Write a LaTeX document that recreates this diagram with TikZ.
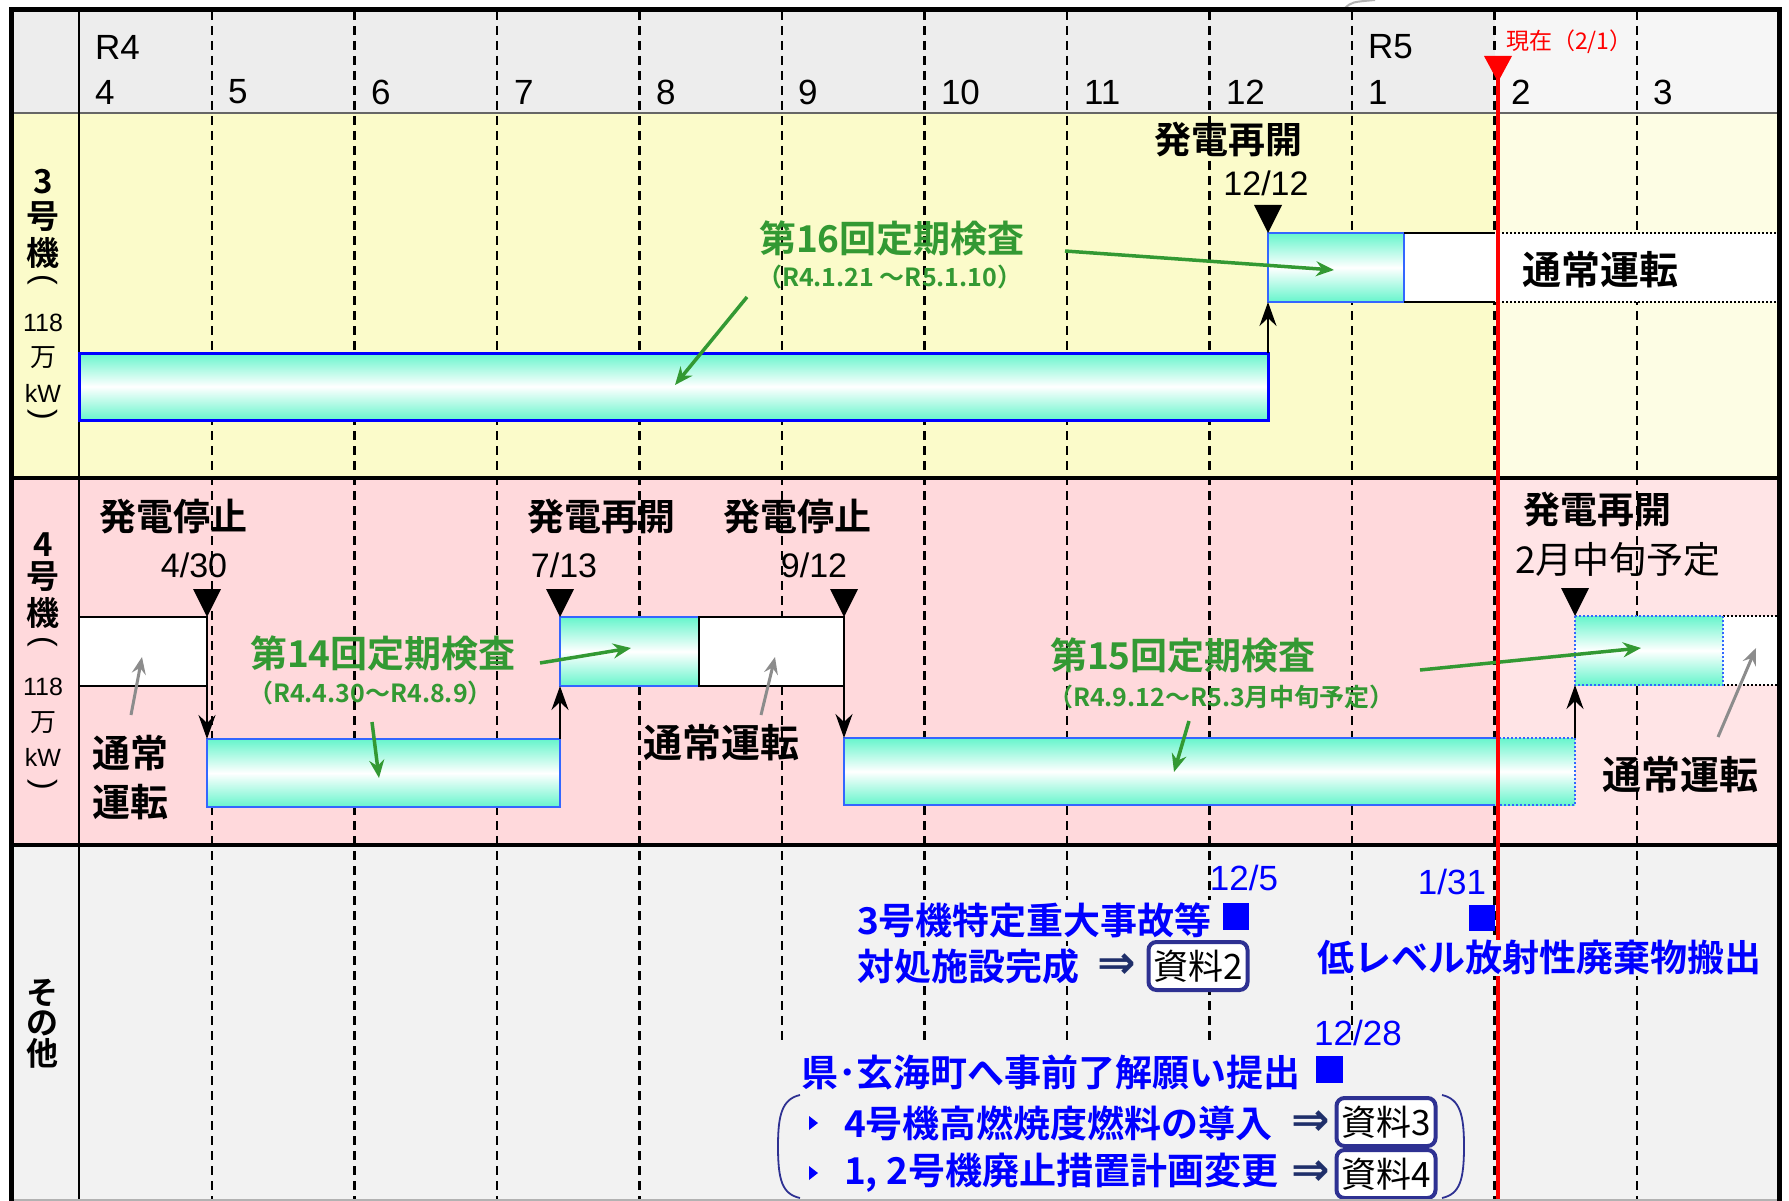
\documentclass[tikz,border=0pt]{standalone}
\usepackage{fontspec}
\setmainfont{Liberation Sans}
\newfontfamily\jp[BoldFont={Noto Sans CJK JP Bold}]{Noto Sans CJK JP}
\newfontfamily\djv{DejaVu Sans}
\usetikzlibrary{arrows.meta}
\newcommand\myfs[1]{\fontsize{#1}{#1}\selectfont}
\definecolor{hdr}{HTML}{EDEDED}
\definecolor{hdrR}{HTML}{F6F6F6}
\definecolor{yel}{HTML}{FBFBCA}
\definecolor{yelR}{HTML}{FDFDE4}
\definecolor{pnk}{HTML}{FFD9DC}
\definecolor{pnkR}{HTML}{FFE4E6}
\definecolor{oth}{HTML}{F2F2F2}
\definecolor{aq}{HTML}{66F5CC}
\definecolor{grn}{HTML}{339933}
\definecolor{gry}{HTML}{8C8C8C}
\definecolor{navy}{HTML}{2E3192}
\definecolor{arrnavy}{HTML}{1F2F6A}
\definecolor{bluebd}{HTML}{3366FF}
\definecolor{txtblue}{HTML}{0000FF}
\begin{document}
\begin{tikzpicture}[x=1pt,y=-1pt,
  every node/.style={inner sep=0pt,outer sep=0pt},
  gridln/.style={line width=2.3pt,dash pattern=on 9pt off 6pt},
  gbar/.style={draw=bluebd,line width=2.5pt,top color=aq,bottom color=aq,middle color=white,anchor=north west},
  gbarnb/.style={top color=aq,bottom color=aq,middle color=white,anchor=north west},
  wbox/.style={fill=white,anchor=north west},
  blkarr/.style={line width=2.7pt,-{Stealth[length=24pt,width=17pt,inset=8pt]}},
  garr/.style={grn,line width=3.5pt,-{Stealth[length=18pt,width=15pt,inset=6pt]}},
  grarr/.style={gry,line width=3pt,-{Stealth[length=17pt,width=14pt,inset=6pt]}},
  jb/.style={font=\jp\bfseries\myfs{37}},
  jr/.style={font=\jp\myfs{37}},
  num/.style={font=\myfs{34}},
  mon/.style={font=\myfs{35},anchor=west},
  gtitle/.style={font=\jp\bfseries\myfs{37},text=grn,anchor=west},
  gsub/.style={font=\jp\bfseries\myfs{25},text=grn,anchor=west},
  btxt/.style={font=\jp\bfseries\myfs{37},text=txtblue},
  bnum/.style={font=\myfs{35},text=txtblue},
  refbox/.style={draw=navy,line width=4pt,rounded corners=8pt,fill=white,font=\jp\myfs{35},minimum width=99pt,minimum height=48pt},
  rarr/.style={font=\djv\bfseries\myfs{46},text=arrnavy},
  vlab/.style={font=\jp\bfseries\myfs{33}},
  vsmall/.style={font=\myfs{25}},
  vpar/.style={font=\myfs{32},rotate=-90},
  tri/.pic={\fill (-14,-28) -- (14,-28) -- (0,0) -- cycle;}
]
\useasboundingbox (0,0) rectangle (1789,1201);
\fill[white] (0,0) rectangle (1789,1201);
% stray curve at top
\draw[gray!60,line width=2pt] (1345,8) .. controls (1352,2) .. (1375,0);
% backgrounds
\fill[hdr] (11,9) rectangle (1495,113);
\fill[hdrR] (1495,9) rectangle (1779,113);
\fill[yel] (11,113) rectangle (1495,478);
\fill[yelR] (1495,113) rectangle (1779,478);
\fill[pnk] (11,478) rectangle (1495,845);
\fill[pnkR] (1495,478) rectangle (1779,845);
\fill[oth] (11,845) rectangle (1779,1201);
% grid
\foreach \i in {0,...,10} \draw[gridln] ({212+142.5*\i},11) -- ({212+142.5*\i},1201);
\draw[black!60,line width=2.5pt] (11,113) -- (1779,113);
\draw[line width=3.5pt] (11,478) -- (1779,478);
\draw[line width=3.5pt] (11,845) -- (1779,845);
\draw[line width=2pt] (79,9) -- (79,1201);
% header labels
\node[mon] (hR4) at (95,47) {R4};
\node[mon] (hR5) at (1368,47) {R5};
\foreach \m/\x in {4/95,5/228,6/371,7/514,8/656,9/798,10/941,11/1084,12/1226,1/1368,2/1511,3/1653}
  \node[mon] (hm\m) at (\x,92) {\m};
\node[font=\jp\myfs{23},text=red,anchor=west] (now) at (1506,42) {現在（2/1）};
% row labels
\foreach \t/\y [count=\k] in {3/182,号/217,機/253} \node[vlab] (l3a\k) at (43,\y) {\t};
\node[vpar] (l3p1) at (43,280) {(};
\node[vsmall] (l3n) at (43,323) {118};
\node[font=\jp\myfs{26}] (l3m) at (43,358) {万};
\node[vsmall] (l3k) at (43,393) {kW};
\node[vpar] (l3p2) at (43,415) {)};
\foreach \t/\y [count=\k] in {4/545,号/577,機/613} \node[vlab] (l4a\k) at (43,\y) {\t};
\node[vpar] (l4p1) at (43,642) {(};
\node[vsmall] (l4n) at (43,687) {118};
\node[font=\jp\myfs{26}] (l4m) at (43,723) {万};
\node[vsmall] (l4k) at (43,757) {kW};
\node[vpar] (l4p2) at (43,785) {)};
\foreach \t/\y [count=\k] in {そ/993,の/1023,他/1053} \node[font=\jp\bfseries\myfs{32}] (l5\k) at (43,\y) {\t};
% ===== Unit 3 =====
\node[gbar,draw=txtblue,line width=3pt,minimum width=1189pt,minimum height=67pt] (b3) at (79,353) {};
\node[wbox,minimum width=375pt,minimum height=69pt] (w3) at (1404,233) {};
\node[gbar,minimum width=136pt,minimum height=69pt] (u3) at (1268,233) {};
\draw[line width=2.5pt] (w3.north west) -- (1495,233);
\draw[line width=2.5pt] (w3.south west) -- (1495,302);
\draw[line width=2pt,dotted] (1498,233) -- (w3.north east);
\draw[line width=2pt,dotted] (1498,302) -- (w3.south east);
\draw[blkarr] (b3.north east) -- (u3.south west);
\pic at (u3.north west) {tri};
\node[jb] (s3) at (1228,140) {発電再開};
\node[num] (d3) at (1266,183) {12/12};
\node[font=\jp\bfseries\myfs{39}] (n3) at (1600,270) {通常運転};
\node[gtitle] (g16) at (759,238) {第16回定期検査};
\node[gsub] (g16s) at (757,277) {（R4.1.21 ～R5.1.10）};
\draw[garr] (747,297) coordinate (g16a) -- (675,385) coordinate (g16b);
\draw[garr] (1065,251) coordinate (g16c) -- (1334,270) coordinate (g16d);
% ===== Unit 4 =====
\node[wbox,draw,line width=2.5pt,minimum width=128pt,minimum height=69pt] (w4a) at (79,617) {};
\node[gbar,minimum width=353pt,minimum height=68pt] (l4a) at (207,739) {};
\node[gbar,minimum width=139pt,minimum height=69pt] (u4a) at (560,617) {};
\node[wbox,draw,line width=2.5pt,minimum width=145pt,minimum height=69pt] (w4b) at (699,617) {};
\node[gbarnb,minimum width=731pt,minimum height=67pt] (l4b) at (844,738) {};
\draw[bluebd,line width=2.5pt] (1495,738) -| (l4b.south west) -- (1495,805);
\draw[bluebd,line width=2pt,dotted] (1495,738) -| (l4b.south east) -- (1495,805);
\node[wbox,minimum width=56pt,minimum height=69pt] (w4c) at (1723,616) {};
\draw[line width=2pt,dotted] (w4c.north west) -- (w4c.north east);
\draw[line width=2pt,dotted] (w4c.south west) -- (w4c.south east);
\node[gbarnb,minimum width=148pt,minimum height=69pt] (u4b) at (1575,616) {};
\draw[bluebd,line width=2pt,dotted] (u4b.north west) rectangle (u4b.south east);
\draw[blkarr] (w4a.north east) -- (l4a.north west);
\draw[blkarr] (l4a.north east) -- (u4a.south west);
\draw[blkarr] (w4b.north east) -- (l4b.north west);
\draw[blkarr] (l4b.north east) -- (u4b.south west);
\pic at (w4a.north east) {tri};
\pic at (u4a.north west) {tri};
\pic at (w4b.north east) {tri};
\pic at (u4b.north west) {tri};
\node[jb] (s4a) at (173,517) {発電停止};
\node[num] (d4a) at (194,565) {4/30};
\node[jb] (s4b) at (601,517) {発電再開};
\node[num] (d4b) at (564,565) {7/13};
\node[jb] (s4c) at (797,517) {発電停止};
\node[num] (d4c) at (814,565) {9/12};
\node[jb] (s4d) at (1597,510) {発電再開};
\node[jr] (d4d) at (1618,560) {2月中旬予定};
\node[font=\jp\bfseries\myfs{38}] (n4a1) at (130,753) {通常};
\node[font=\jp\bfseries\myfs{38}] (n4a2) at (130,802) {運転};
\node[font=\jp\bfseries\myfs{39}] (n4b) at (721,743) {通常運転};
\node[font=\jp\bfseries\myfs{39}] (n4c) at (1680,775) {通常運転};
\draw[grarr] (131,715) coordinate (ga1) -- (142,657) coordinate (ga2);
\draw[grarr] (761,715) coordinate (gb1) -- (775,657) coordinate (gb2);
\draw[grarr] (1718,737) coordinate (gc1) -- (1756,648) coordinate (gc2);
\node[gtitle] (g14) at (250,653) {第14回定期検査};
\node[gsub] (g14s) at (248,693) {（R4.4.30～R4.8.9）};
\draw[garr] (540,663) coordinate (g14a) -- (631,648) coordinate (g14b);
\draw[garr] (372,722) coordinate (g14c) -- (379,778) coordinate (g14d);
\node[gtitle] (g15) at (1050,655) {第15回定期検査};
\node[gsub] (g15s) at (1048,697) {（R4.9.12～R5.3月中旬予定）};
\draw[garr] (1420,670) coordinate (g15a) -- (1641,648) coordinate (g15b);
\draw[garr] (1189,721) coordinate (g15c) -- (1174,772) coordinate (g15d);
% ===== Other =====
\fill[oth] (775,1042) rectangle (1470,1199);
\draw[red,line width=3.5pt] (1498,70) -- (1498,1201);
\fill[red] (1484,56) -- (1512,56) -- (1498,82) -- cycle;
\node[btxt,anchor=west,fill=oth,inner sep=2pt] (o1) at (855,920) {3号機特定重大事故等};
\node[btxt,anchor=west,fill=oth,inner sep=2pt] (o2) at (855,966) {対処施設完成};
\node[rarr] (o2r) at (1117,966) {⇒};
\node[refbox] (r2) at (1198,966) {資料2};
\node[bnum] (d5a) at (1244,878) {12/5};
\fill[txtblue] (1223,903) rectangle (1249,930);
\node[bnum] (d5b) at (1452,882) {1/31};
\fill[txtblue] (1469,905) rectangle (1495,931);
\node[btxt,fill=oth,inner sep=1pt] (o3) at (1539,958) {低レベル放射性廃棄物搬出};
\node[bnum] (d5c) at (1358,1033) {12/28};
\fill[txtblue] (1316,1056) rectangle (1343,1083);
\node[btxt,anchor=west] (o4) at (801,1073) {県･玄海町へ事前了解願い提出};
\fill[txtblue] (809,1116) -- (818,1123) -- (809,1130) -- cycle;
\fill[txtblue] (809,1166) -- (818,1173) -- (809,1180) -- cycle;
\node[btxt,anchor=west] (o5) at (844,1123) {4号機高燃焼度燃料の導入};
\node[btxt,anchor=west] (o6) at (844,1173) {1, 2号機廃止措置計画変更};
\node[rarr] (o5r) at (1311,1123) {⇒};
\node[rarr] (o6r) at (1311,1173) {⇒};
\node[refbox] (r3) at (1386,1122) {資料3};
\node[refbox] (r4) at (1386,1174) {資料4};
\draw[navy,line width=1.8pt] (800,1095) .. controls (782,1099) and (778,1115) .. (778,1146) .. controls (778,1180) and (782,1194) .. (800,1198);
\draw[navy,line width=1.8pt] (1442,1095) .. controls (1460,1099) and (1464,1115) .. (1464,1146) .. controls (1464,1180) and (1460,1194) .. (1442,1198);
% frame
\draw[gray!60,line width=1.5pt] (11,1200) -- (1779,1200);
\draw[line width=5pt] (11,1201) -- (11,9.5) -- (1779,9.5) -- (1779,1201);
\end{tikzpicture}
\end{document}
